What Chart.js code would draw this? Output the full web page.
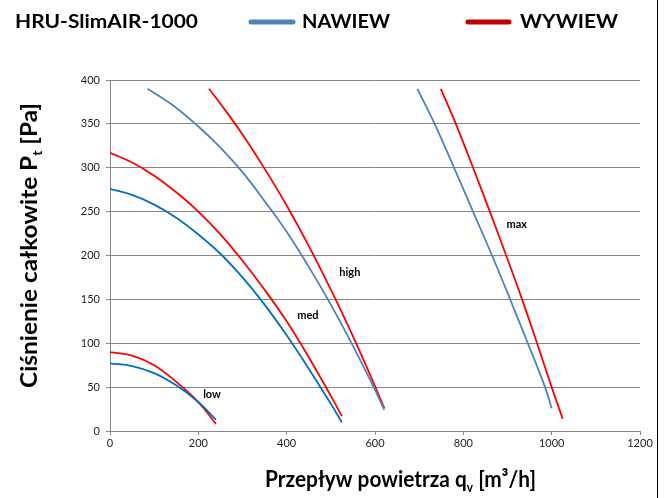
<!DOCTYPE html>
<html>
<head>
<meta charset="utf-8">
<script src="https://cdn.jsdelivr.net/npm/chart.js@4.4.1/dist/chart.umd.min.js"></script>
<style>
  html, body { margin: 0; padding: 0; background: #fff; }
  #wrap { width: 666px; height: 498px; }
</style>
</head>
<body>
<div id="wrap"><canvas id="chart" width="666" height="498"></canvas></div>
<script>
// Curve data: flow [m3/h] and pressure [Pa]
const nawiewLowX = [0, 50, 100, 150, 200, 240];
const nawiewLowY = [77, 74, 66, 52, 33, 13];
const wywiewLowX = [0, 50, 100, 150, 200, 240];
const wywiewLowY = [90, 86, 75, 56, 33, 8];

const nawiewMedX = [0, 50, 100, 150, 200, 250, 300, 350, 400, 450, 500, 525];
const nawiewMedY = [276, 269, 258, 243, 224, 202, 175, 144, 109, 71, 31, 10];
const wywiewMedX = [0, 50, 100, 150, 200, 250, 300, 350, 400, 450, 500, 525];
const wywiewMedY = [317, 306, 291, 272, 250, 224, 194, 161, 125, 84, 40, 17];

const nawiewHighX = [85, 140, 200, 250, 300, 350, 400, 450, 500, 550, 600, 621];
const nawiewHighY = [390, 372, 347, 323, 295, 262, 227, 187, 144, 97, 47, 24];
const wywiewHighX = [224, 250, 300, 350, 400, 450, 500, 550, 600, 621];
const wywiewHighY = [390, 373, 338, 299, 257, 211, 161, 108, 51, 26];

const nawiewMaxX = [696, 735, 779, 822, 865, 906, 946, 985, 1000];
const nawiewMaxY = [390, 350, 300, 250, 200, 150, 100, 50, 26];
const wywiewMaxX = [749, 783, 822, 860, 897, 933, 967, 1000, 1025];
const wywiewMaxY = [390, 350, 300, 250, 200, 150, 100, 50, 14];

// speed labels placed on the chart (data coordinates)
const speedLabels = ['low', 'med', 'high', 'max'];
const speedLabelX = [231, 448, 543, 921];
const speedLabelY = [42, 132, 181, 235];

const xTicks = [0, 200, 400, 600, 800, 1000, 1200];
const yTicks = [0, 50, 100, 150, 200, 250, 300, 350, 400];

const FONT = 'Lato, "Open Sans", sans-serif';
const RED = '#ff0000';
const BLUE_DARK = '#0070c0';
const BLUE_LIGHT = '#4f81bd';

function pts(xs, ys) {
    return xs.map((x, i) => ({ x: x, y: ys[i] }));
}

function curve(xs, ys, color) {
    return {
        data: pts(xs, ys),
        borderColor: color,
        borderWidth: 1.8,
        showLine: true,
        pointRadius: 0,
        fill: false,
        tension: 0.4
    };
}

// draw a run of text segments (for subscripts), squeezed to a given width
function drawRuns(ctx, runs, x, y, width) {
    let total = 0;
    runs.forEach(r => {
        ctx.font = 'bold ' + r.size + 'px ' + FONT;
        r.w = ctx.measureText(r.t).width;
        total += r.w;
    });
    const k = width / total;
    ctx.save();
    ctx.translate(x, y);
    ctx.scale(k, 1);
    let cx = 0;
    runs.forEach(r => {
        ctx.font = 'bold ' + r.size + 'px ' + FONT;
        ctx.fillText(r.t, cx, r.dy || 0);
        cx += r.w;
    });
    ctx.restore();
}

const decorations = {
    id: 'decorations',
    afterDraw(chart) {
        const ctx = chart.ctx;
        const xs = chart.scales.x, ys = chart.scales.y;
        ctx.save();
        ctx.fillStyle = '#000';
        ctx.textBaseline = 'alphabetic';
        ctx.textAlign = 'left';

        // header
        drawRuns(ctx, [{ t: 'HRU-SlimAIR-1000', size: 19 }], 15, 28, 183);
        drawRuns(ctx, [{ t: 'NAWIEW', size: 19 }], 302, 28, 88);
        drawRuns(ctx, [{ t: 'WYWIEW', size: 19 }], 520, 28, 98);
        ctx.lineCap = 'round';
        ctx.lineWidth = 5;
        ctx.strokeStyle = BLUE_LIGHT;
        ctx.beginPath(); ctx.moveTo(251, 22); ctx.lineTo(293, 22); ctx.stroke();
        ctx.strokeStyle = '#c00000';
        ctx.beginPath(); ctx.moveTo(468, 22); ctx.lineTo(509, 22); ctx.stroke();

        // axis titles
        drawRuns(ctx, [
            { t: 'Przepływ powietrza q', size: 23 },
            { t: 'v', size: 13, dy: 5 },
            { t: ' [m³/h]', size: 23 }
        ], 265, 487, 271);

        ctx.save();
        ctx.translate(37, 388);
        ctx.rotate(-Math.PI / 2);
        drawRuns(ctx, [
            { t: 'Ciśnienie całkowite P', size: 23 },
            { t: 't', size: 13, dy: 5 },
            { t: ' [Pa]', size: 23 }
        ], 0, 0, 285);
        ctx.restore();

        // speed labels
        ctx.font = 'bold 11px ' + FONT;
        ctx.textAlign = 'center';
        ctx.textBaseline = 'middle';
        speedLabels.forEach((s, i) => {
            ctx.fillText(s, xs.getPixelForValue(speedLabelX[i]), ys.getPixelForValue(speedLabelY[i]));
        });

        // frame line on the right
        ctx.fillStyle = '#000';
        ctx.fillRect(657, 0, 1, chart.height);
        ctx.restore();
    }
};

const ctx = document.getElementById('chart').getContext('2d');
const chart = new Chart(ctx, {
    type: 'scatter',
    data: {
        datasets: [
            curve(nawiewLowX, nawiewLowY, BLUE_DARK),
            curve(wywiewLowX, wywiewLowY, RED),
            curve(nawiewMedX, nawiewMedY, BLUE_DARK),
            curve(wywiewMedX, wywiewMedY, RED),
            curve(nawiewHighX, nawiewHighY, BLUE_LIGHT),
            curve(wywiewHighX, wywiewHighY, RED),
            curve(nawiewMaxX, nawiewMaxY, BLUE_LIGHT),
            curve(wywiewMaxX, wywiewMaxY, RED)
        ]
    },
    options: {
        responsive: false,
        animation: false,
        layout: { padding: { left: 0, right: 26, top: 80, bottom: 0 } },
        plugins: {
            legend: { display: false },
            tooltip: { enabled: false }
        },
        scales: {
            x: {
                type: 'linear',
                min: 0,
                max: 1200,
                afterFit: s => { s.height = 67; },
                afterBuildTicks: s => { s.ticks = xTicks.map(v => ({ value: v })); },
                grid: { drawOnChartArea: false, drawTicks: true, tickLength: 4, color: '#868686' },
                border: { color: '#868686', width: 1 },
                ticks: {
                    color: '#222',
                    font: { family: FONT, size: 11 },
                    padding: 2,
                    maxRotation: 0,
                    callback: v => String(v)
                }
            },
            y: {
                type: 'linear',
                min: 0,
                max: 400,
                afterFit: s => { s.width = 110; },
                afterBuildTicks: s => { s.ticks = yTicks.map(v => ({ value: v })); },
                grid: { color: '#868686', tickLength: 4 },
                border: { color: '#868686', width: 1 },
                ticks: { color: '#222', font: { family: FONT, size: 11 }, padding: 6, callback: v => String(v) }
            }
        }
    },
    plugins: [decorations]
});
</script>
</body>
</html>
